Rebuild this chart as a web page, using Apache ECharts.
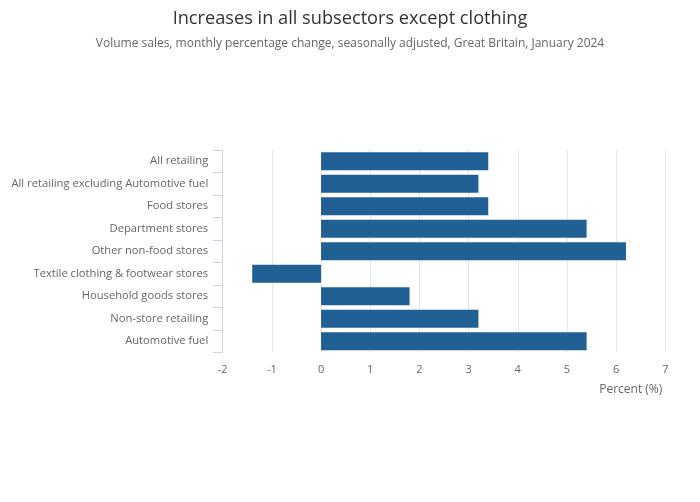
<!DOCTYPE html>
<html><head><meta charset="utf-8">
<script src="https://cdn.jsdelivr.net/npm/echarts@6/dist/echarts.min.js"></script>
<style>html,body{margin:0;padding:0;background:#fff}#c{width:700px;height:502px}</style>
</head><body><div id="c"></div>
<script>
const categories = ["All retailing","All retailing excluding Automotive fuel","Food stores","Department stores","Other non-food stores","Textile clothing & footwear stores","Household goods stores","Non-store retailing","Automotive fuel"];
const values = [3.4, 3.2, 3.4, 5.4, 6.2, -1.4, 1.8, 3.2, 5.4];
const xTicks = [-2, -1, 0, 1, 2, 3, 4, 5, 6, 7];
const titleText = "Increases in all subsectors except clothing";
const subtitleText = "Volume sales, monthly percentage change, seasonally adjusted, Great Britain, January 2024";
const xAxisName = "Percent (%)";

const chart = echarts.init(document.getElementById('c'), null, {renderer:'canvas'});
const font = "'Open Sans', sans-serif";
chart.setOption({
  animation: false,
  backgroundColor: '#fff',
  title: {
    text: titleText, subtext: subtitleText, left: 'center', top: 5, itemGap: 10,
    textStyle: {fontFamily: font, fontSize: 18.2, fontWeight: 'normal', color: '#333'},
    subtextStyle: {fontFamily: font, fontSize: 12, color: '#666'}
  },
  grid: {left: 222.7, right: 34.7, top: 150, bottom: 149.5, containLabel: false},
  xAxis: {
    type: 'value', min: xTicks[0], max: xTicks[xTicks.length-1], interval: 1,
    name: xAxisName, nameLocation: 'end', nameGap: 0,
    nameTextStyle: {fontFamily: font, fontSize: 12, color: '#666', align: 'right', verticalAlign: 'top', padding: [31, 3, 0, 0]},
    axisLine: {show: false}, axisTick: {show: false},
    axisLabel: {fontFamily: font, fontSize: 11, color: '#666', margin: 12},
    splitLine: {show: true, lineStyle: {color: '#e6e6e6', width: 1}}
  },
  yAxis: {
    type: 'category', data: categories, inverse: true,
    axisLine: {show: true, onZero: false, lineStyle: {color: '#ccd6eb', width: 1}},
    axisTick: {show: true, length: 10, lineStyle: {color: '#ccd6eb'}},
    axisLabel: {fontFamily: font, fontSize: 11.2, color: '#666', margin: 14.5, padding: [4, 0, 0, 0]},
    splitLine: {show: false}
  },
  series: [{
    type: 'bar', data: values, barCategoryGap: '20%',
    itemStyle: {color: '#206095'}
  }]
});
</script></body></html>
